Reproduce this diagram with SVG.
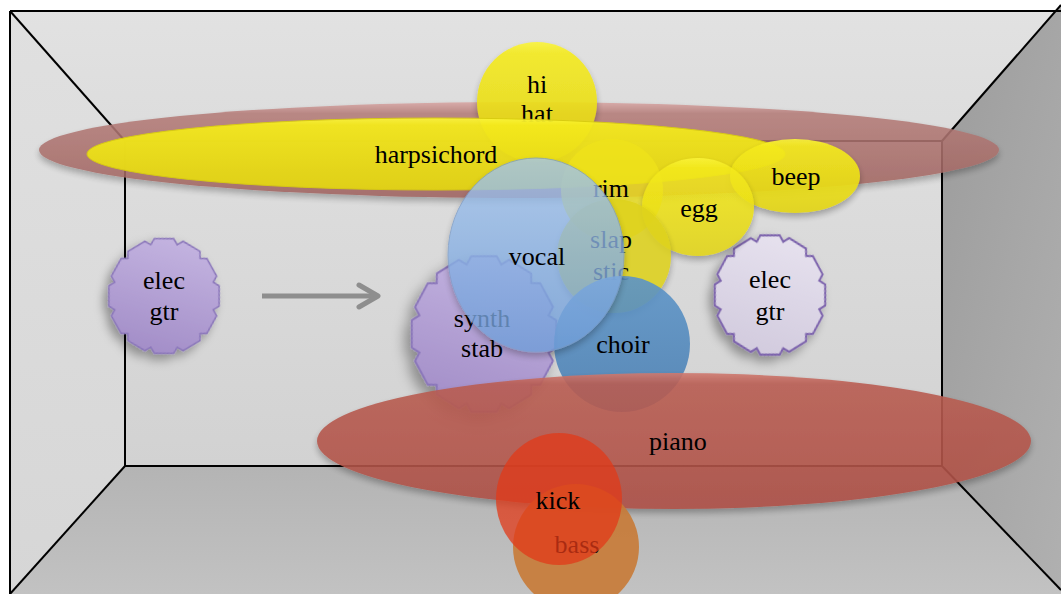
<svg xmlns="http://www.w3.org/2000/svg" xmlns:xlink="http://www.w3.org/1999/xlink" width="1061" height="594" viewBox="0 0 1061 594">
<style>
.lbl{font-family:"Liberation Serif","Times New Roman",serif;font-size:26px;text-anchor:middle;fill:#000}
.edge{stroke:#000;stroke-width:2;fill:none}
</style>
<defs>
<linearGradient id="gBack" x1="0" y1="0" x2="0" y2="1"><stop offset="0" stop-color="#dedede"/><stop offset="1" stop-color="#d2d2d2"/></linearGradient>
<linearGradient id="gCeil" x1="0" y1="0" x2="0" y2="1"><stop offset="0" stop-color="#e2e2e2"/><stop offset="1" stop-color="#dcdcdc"/></linearGradient>
<linearGradient id="gLeft" x1="0" y1="0" x2="0" y2="1"><stop offset="0" stop-color="#e0e0e0"/><stop offset="1" stop-color="#d6d6d6"/></linearGradient>
<linearGradient id="gRight" x1="0" y1="0" x2="1" y2="1"><stop offset="0" stop-color="#9c9c9c"/><stop offset="1" stop-color="#b0b0b0"/></linearGradient>
<linearGradient id="gFloor" x1="0" y1="0" x2="0" y2="1"><stop offset="0" stop-color="#b4b4b4"/><stop offset="1" stop-color="#c2c2c2"/></linearGradient>
<linearGradient id="gPink" x1="0" y1="0" x2="0" y2="1"><stop offset="0" stop-color="#d8a6a4"/><stop offset="0.12" stop-color="#b47c78"/><stop offset="1" stop-color="#9e625e"/></linearGradient>
<linearGradient id="gYel" x1="0" y1="0" x2="0" y2="1"><stop offset="0" stop-color="#fbf43a"/><stop offset="0.1" stop-color="#f4ea1c"/><stop offset="1" stop-color="#e2d414"/></linearGradient>
<linearGradient id="gVocal" x1="0" y1="0" x2="0" y2="1"><stop offset="0" stop-color="#a2c4ee"/><stop offset="1" stop-color="#6f9dd8"/></linearGradient>
<linearGradient id="gChoir" x1="0" y1="0" x2="0" y2="1"><stop offset="0" stop-color="#5c94c8"/><stop offset="1" stop-color="#4a7fb2"/></linearGradient>
<linearGradient id="gPiano" x1="0" y1="0" x2="0" y2="1"><stop offset="0" stop-color="#d07a70"/><stop offset="0.08" stop-color="#b95d52"/><stop offset="1" stop-color="#ad4f45"/></linearGradient>
<linearGradient id="gPurple" x1="0" y1="0" x2="0" y2="1"><stop offset="0" stop-color="#c3b3e0"/><stop offset="1" stop-color="#a38ec8"/></linearGradient>
<linearGradient id="gLav" x1="0" y1="0" x2="0" y2="1"><stop offset="0" stop-color="#e6e1ee"/><stop offset="1" stop-color="#d2cbde"/></linearGradient>
<filter id="sh" x="-20%" y="-20%" width="140%" height="150%"><feDropShadow dx="0" dy="4" stdDeviation="3" flood-color="#000" flood-opacity="0.3"/></filter>
<filter id="shG" x="-30%" y="-30%" width="160%" height="170%"><feDropShadow dx="-3" dy="6" stdDeviation="5" flood-color="#000" flood-opacity="0.35"/></filter>
<path id="gear" d="M55.79,-4.88 L51,0 L55.79,4.88 L50.75,23.67 L44.17,25.5 L45.87,32.12 L32.12,45.87 L25.5,44.17 L23.67,50.75 L4.88,55.79 L0,51 L-4.88,55.79 L-23.67,50.75 L-25.5,44.17 L-32.12,45.87 L-45.87,32.12 L-44.17,25.5 L-50.75,23.67 L-55.79,4.88 L-51,0 L-55.79,-4.88 L-50.75,-23.67 L-44.17,-25.5 L-45.87,-32.12 L-32.12,-45.87 L-25.5,-44.17 L-23.67,-50.75 L-4.88,-55.79 L0,-51 L4.88,-55.79 L23.67,-50.75 L25.5,-44.17 L32.12,-45.87 L45.87,-32.12 L44.17,-25.5 L50.75,-23.67 Z"/>
<marker id="chev" viewBox="0 0 26 28" refX="22" refY="14" markerWidth="26" markerHeight="28" markerUnits="userSpaceOnUse" orient="auto"><path d="M3,3 L22,14 L3,25" fill="none" stroke="#8e8e8e" stroke-width="5" stroke-linecap="round" stroke-linejoin="round"/></marker>
</defs>

<g id="room">
<rect x="0" y="0" width="1061" height="594" fill="#ffffff"/>
<polygon points="10,11 1061,11 1061,5 942,141 125,141" fill="url(#gCeil)"/>
<polygon points="10,11 125,141 125,466 10,594" fill="url(#gLeft)"/>
<polygon points="942,141 1061,5 1061,590 942,466" fill="url(#gRight)"/>
<polygon points="125,466 942,466 1061,590 1061,594 10,594" fill="url(#gFloor)"/>
<rect x="125" y="141" width="817" height="325" fill="url(#gBack)"/>
<line class="edge" x1="10" y1="11" x2="1061" y2="11"/>
<line class="edge" x1="10" y1="11" x2="10" y2="594"/>
<rect class="edge" x="125" y="141" width="817" height="325"/>
<line class="edge" x1="10" y1="11" x2="125" y2="141"/>
<line class="edge" x1="942" y1="141" x2="1061" y2="5"/>
<line class="edge" x1="10" y1="594" x2="125" y2="466"/>
<line class="edge" x1="942" y1="466" x2="1061" y2="590"/>
</g>

<g id="connectors">
<line x1="262" y1="296" x2="378" y2="296" stroke="#8e8e8e" stroke-width="5" marker-end="url(#chev)"/>
</g>

<g id="node-elec-gtr-left">
<use xlink:href="#gear" href="#gear" transform="translate(164,296) scale(1,1.04) rotate(15)" fill="url(#gPurple)" stroke="#8a76ba" stroke-width="1.5" vector-effect="non-scaling-stroke" filter="url(#shG)"/>
<text class="lbl" x="164" y="289">elec</text>
<text class="lbl" x="164" y="320">gtr</text>
</g>

<g id="node-elec-gtr-right">
<use xlink:href="#gear" href="#gear" transform="translate(770,295) scale(1,1.08) rotate(15)" fill="url(#gLav)" stroke="#7d63ad" stroke-width="2" vector-effect="non-scaling-stroke" filter="url(#shG)"/>
<text class="lbl" x="770" y="288">elec</text>
<text class="lbl" x="770" y="320">gtr</text>
</g>

<g id="node-pad">
<ellipse cx="519" cy="150" rx="480" ry="48" fill="url(#gPink)" opacity="0.88" filter="url(#sh)"/>
</g>

<g id="node-hihat">
<circle cx="537" cy="102" r="60" fill="url(#gYel)" opacity="0.9" filter="url(#sh)"/>
<text class="lbl" x="537" y="93">hi</text>
<text class="lbl" x="537" y="122">hat</text>
</g>

<g id="node-harpsichord">
<ellipse cx="436" cy="154" rx="349" ry="36" fill="url(#gYel)" opacity="0.95" stroke="#d8cc10" stroke-width="1"/>
<text class="lbl" x="436" y="163">harpsichord</text>
</g>

<g id="node-rim">
<circle cx="612" cy="190" r="51" fill="#efe21a" opacity="0.8"/>
<text class="lbl" x="611" y="197">rim</text>
</g>

<g id="node-beep">
<ellipse cx="795" cy="176" rx="65" ry="37" fill="url(#gYel)" opacity="0.92" filter="url(#sh)"/>
<text class="lbl" x="796" y="185">beep</text>
</g>

<g id="node-egg">
<ellipse cx="698" cy="207" rx="56" ry="49" fill="url(#gYel)" opacity="0.88" filter="url(#sh)"/>
<text class="lbl" x="699" y="217">egg</text>
</g>

<g id="node-synth-stab">
<use xlink:href="#gear" href="#gear" transform="translate(484,334) scale(1.31,1.41) rotate(15)" fill="url(#gPurple)" stroke="#8a76ba" stroke-width="1.5" vector-effect="non-scaling-stroke" filter="url(#shG)"/>
<text class="lbl" x="482" y="327">synth</text>
<text class="lbl" x="482" y="357">stab</text>
</g>

<g id="node-slapstic">
<circle cx="614" cy="256" r="57" fill="#ded21c" opacity="0.88" filter="url(#sh)"/>
<text class="lbl" x="611" y="248">slap</text>
<text class="lbl" x="611" y="280">stic</text>
</g>

<g id="node-choir">
<circle cx="622" cy="344" r="68" fill="url(#gChoir)" opacity="0.9"/>
<text class="lbl" x="623" y="353">choir</text>
</g>

<g id="node-vocal">
<ellipse cx="536" cy="255" rx="88" ry="97" fill="url(#gVocal)" opacity="0.8" stroke="#7c9cc8" stroke-width="1" filter="url(#sh)"/>
<text class="lbl" x="537" y="265">vocal</text>
</g>

<g id="node-piano">
<ellipse cx="674" cy="441" rx="357" ry="68" fill="url(#gPiano)" opacity="0.9" filter="url(#sh)"/>
<text class="lbl" x="678" y="450">piano</text>
</g>

<g id="node-bass">
<circle cx="576" cy="547" r="63" fill="#c87a36" opacity="0.9"/>
<text class="lbl" x="577" y="553">bass</text>
</g>

<g id="node-kick">
<ellipse cx="559" cy="499" rx="63" ry="66" fill="#e23a18" opacity="0.75"/>
<text class="lbl" x="558" y="509">kick</text>
</g>
</svg>
